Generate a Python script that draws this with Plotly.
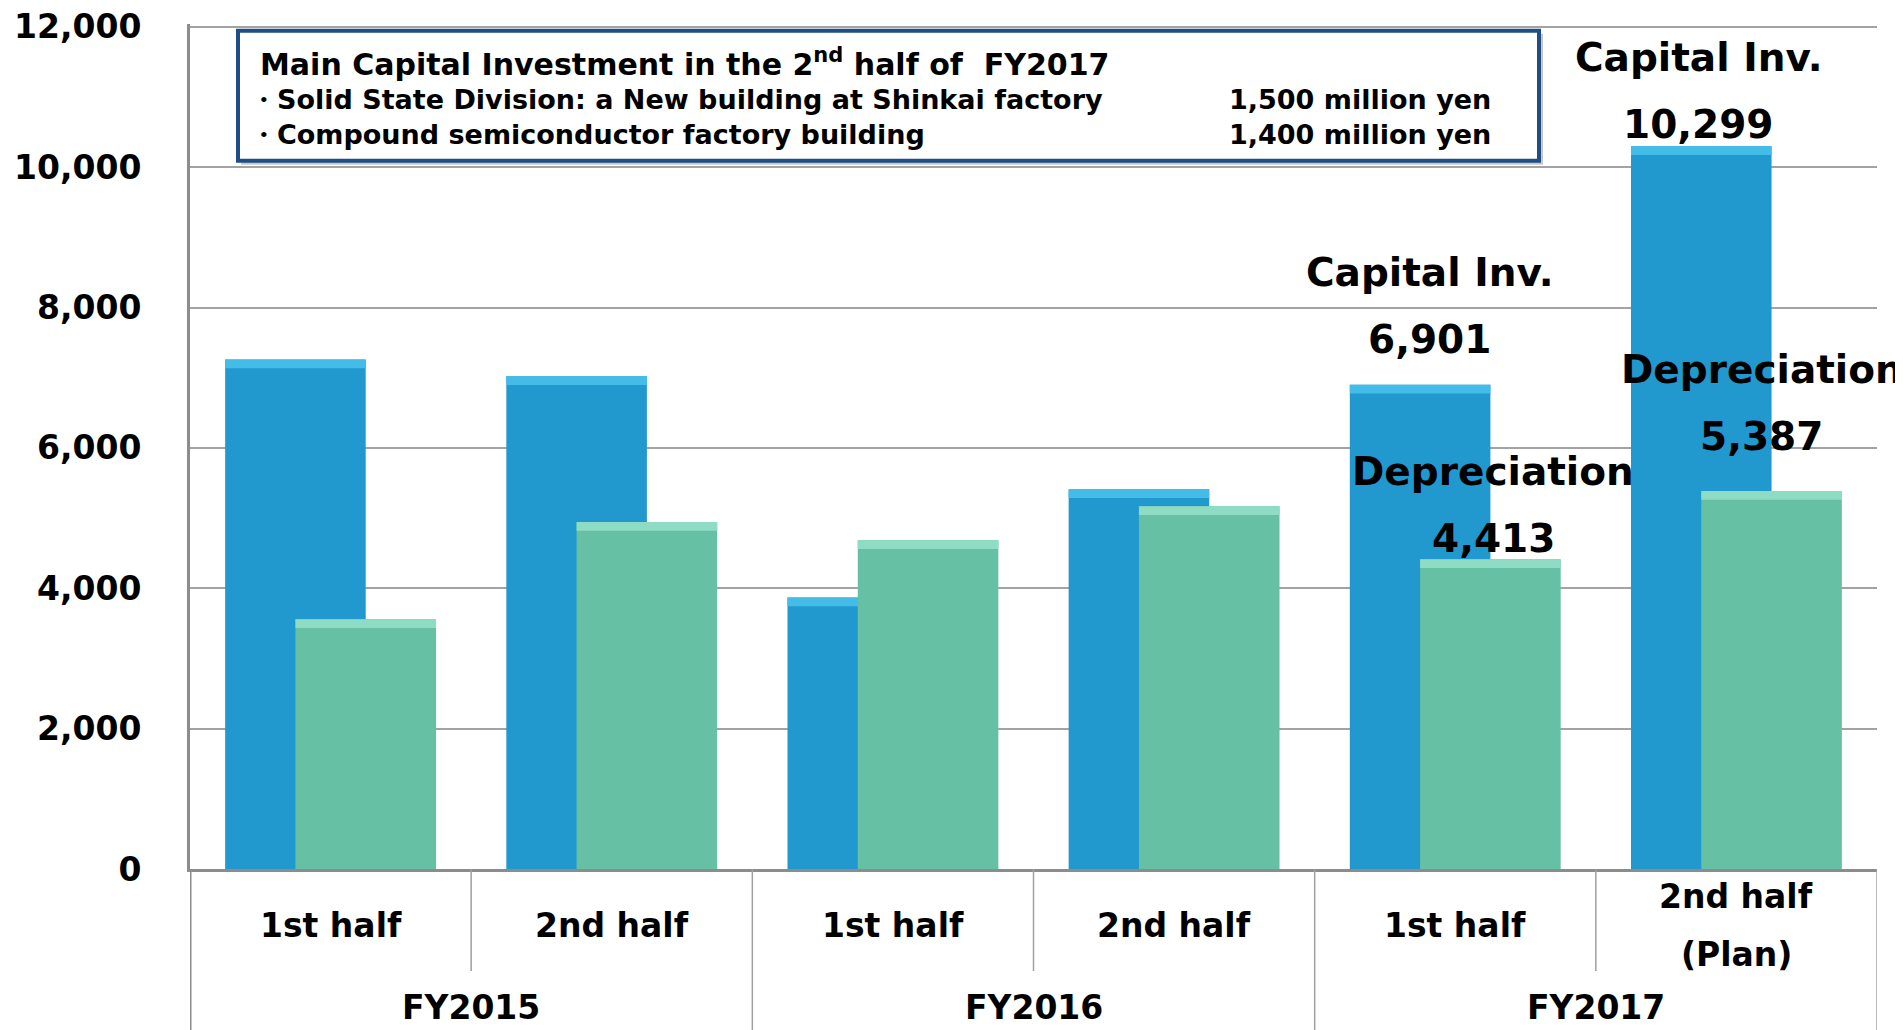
import plotly.graph_objects as go

# ---- data ----
years = ["FY2015", "FY2016", "FY2017"]
halves = ["1st half", "2nd half", "1st half", "2nd half", "1st half", "2nd half<br>(Plan)"]
capital_inv = [7260, 7020, 3870, 5410, 6901, 10299]
depreciation = [3560, 4945, 4685, 5170, 4413, 5387]
y_ticks = [0, 2000, 4000, 6000, 8000, 10000, 12000]

box_title = "Main Capital Investment in the 2<sup>nd</sup> half of\u00a0\u00a0FY2017"
box_items = ["\u30fbSolid State Division: a New building at Shinkai factory",
             "\u30fbCompound semiconductor factory building"]
box_amounts = ["1,500 million yen", "1,400 million yen"]

# ---- layout geometry (page has an 8px body margin) ----
OFF = 8
W, H = 1903 - OFF, 1030 - OFF
Y_MAX = 12040
PLOT_L, PLOT_R, PLOT_B = 190, 1877, 869  # page pixels
PX_PER_UNIT = (869 - 27) / 12000
PLOT_T = PLOT_B - Y_MAX * PX_PER_UNIT
L, T = PLOT_L - OFF, PLOT_T - OFF
R = W - (PLOT_R - OFF)
B = H - (PLOT_B - OFF)
PW, PH = PLOT_R - PLOT_L, PLOT_B - PLOT_T
FONT = "DejaVu Sans"


def px(x):  # page x -> paper
    return (x - PLOT_L) / PW


def py(y):  # page y -> paper
    return (PLOT_B - y) / PH


xs = list(range(len(halves)))
BW = 0.5
OFF_CAP, OFF_DEP = -0.375, -0.125
strip = 125  # bevel strip height in value units

fig = go.Figure()
fig.add_trace(go.Bar(x=xs, y=capital_inv, width=BW, offset=OFF_CAP,
                     marker=dict(color="#2199cf", line=dict(width=0)), name="Capital Inv."))
fig.add_trace(go.Bar(x=xs, y=[strip] * 6, base=[v - strip for v in capital_inv], width=BW,
                     offset=OFF_CAP, marker=dict(color="#43bde8", line=dict(width=0)), showlegend=False))
fig.add_trace(go.Bar(x=xs, y=depreciation, width=BW, offset=OFF_DEP,
                     marker=dict(color="#66c0a3", line=dict(width=0)), name="Depreciation"))
fig.add_trace(go.Bar(x=xs, y=[strip] * 6, base=[v - strip for v in depreciation], width=BW,
                     offset=OFF_DEP, marker=dict(color="#8edcc3", line=dict(width=0)), showlegend=False))

ann = []
lab = [
    (4 + OFF_CAP + BW / 2, capital_inv[4], "Capital Inv.", 112, 9),
    (4 + OFF_CAP + BW / 2, capital_inv[4], f"{capital_inv[4]:,}", 45, 9),
    (5 + OFF_CAP + BW / 2, capital_inv[5], "Capital Inv.", 89, -3),
    (5 + OFF_CAP + BW / 2, capital_inv[5], f"{capital_inv[5]:,}", 22, -3),
    (4 + OFF_DEP + BW / 2, depreciation[4], "Depreciation", 88, 3),
    (4 + OFF_DEP + BW / 2, depreciation[4], f"{depreciation[4]:,}", 21, 3),
    (5 + OFF_DEP + BW / 2, depreciation[5], "Depreciation", 121, -10),
    (5 + OFF_DEP + BW / 2, depreciation[5], f"{depreciation[5]:,}", 54, -10),
]
for x, y, t, ys, xsh in lab:
    ann.append(dict(x=x, y=y, xref="x", yref="y", text=t, showarrow=False,
                    yanchor="middle", xanchor="center", yshift=ys, xshift=xsh,
                    font=dict(size=39, color="black", family=FONT, weight="bold")))

# category labels
for i, h in enumerate(halves):
    parts = h.split("<br>")
    ys = [925] if len(parts) == 1 else [896, 954]
    for p, yy in zip(parts, ys):
        ann.append(dict(x=i, y=py(yy), xref="x", yref="paper", text=p, showarrow=False,
                        yanchor="middle", xanchor="center",
                        font=dict(size=33, color="black", family=FONT, weight="bold")))
for j, yv in enumerate(years):
    ann.append(dict(x=2 * j + 0.5, y=py(1007), xref="x", yref="paper", text=yv, showarrow=False,
                    yanchor="middle", xanchor="center",
                    font=dict(size=33, color="black", family=FONT, weight="bold")))

# info box text
ann.append(dict(x=px(258), y=py(63), xref="paper", yref="paper", text=box_title, showarrow=False,
                xanchor="left", yanchor="middle",
                font=dict(size=30, color="black", family=FONT, weight="bold")))
for k, (it, am) in enumerate(zip(box_items, box_amounts)):
    yy = [100, 135][k]
    ann.append(dict(x=px(248), y=py(yy), xref="paper", yref="paper", text=it, showarrow=False,
                    xanchor="left", yanchor="middle",
                    font=dict(size=27, color="black", family=FONT, weight="bold")))
    ann.append(dict(x=px(1493), y=py(yy), xref="paper", yref="paper", text=am, showarrow=False,
                    xanchor="right", yanchor="middle",
                    font=dict(size=27, color="black", family=FONT, weight="bold")))

shapes = []
shapes.append(dict(type="rect", xref="paper", yref="paper", x0=px(241), x1=px(1543),
                   y0=py(34), y1=py(165), fillcolor="#c8c8c8", line=dict(width=0), layer="above"))
shapes.append(dict(type="rect", xref="paper", yref="paper", x0=px(238), x1=px(1539),
                   y0=py(31), y1=py(161), fillcolor="white",
                   line=dict(color="#1f4e85", width=4), layer="above"))
for xb, long_ in [(-0.5, True), (0.5, False), (1.5, True), (2.5, False), (3.5, True),
                  (4.5, False), (5.5, True)]:
    shapes.append(dict(type="line", xref="x", yref="paper", x0=xb, x1=xb, y0=0,
                       y1=py(1030) if long_ else py(971),
                       line=dict(color="#8c8c8c" if xb == -0.5 else "#a0a0a0",
                                 width=3 if xb == -0.5 else 1.5)))

fig.update_layout(
    width=W, height=H,
    margin=dict(l=L, r=R, t=T, b=B, pad=0, autoexpand=False),
    paper_bgcolor="white", plot_bgcolor="white",
    barmode="overlay", showlegend=False,
    font=dict(family=FONT, color="black"),
    annotations=ann, shapes=shapes,
    xaxis=dict(range=[-0.5, 5.5], showticklabels=False, showgrid=False, zeroline=False,
               showline=True, linecolor="#8c8c8c", linewidth=3, ticks="", automargin=False),
    yaxis=dict(range=[0, Y_MAX], tickvals=y_ticks, tickformat=",d",
               showgrid=True, gridcolor="#a3a3a3", gridwidth=2, zeroline=False,
               showline=True, linecolor="#8c8c8c", linewidth=3, ticks="",
               ticklabelstandoff=39, ticklabeloverflow="allow", automargin=False,
               tickfont=dict(size=33, color="black", family=FONT, weight="bold")),
    hovermode=False,
)

fig.write_html("out.html")
